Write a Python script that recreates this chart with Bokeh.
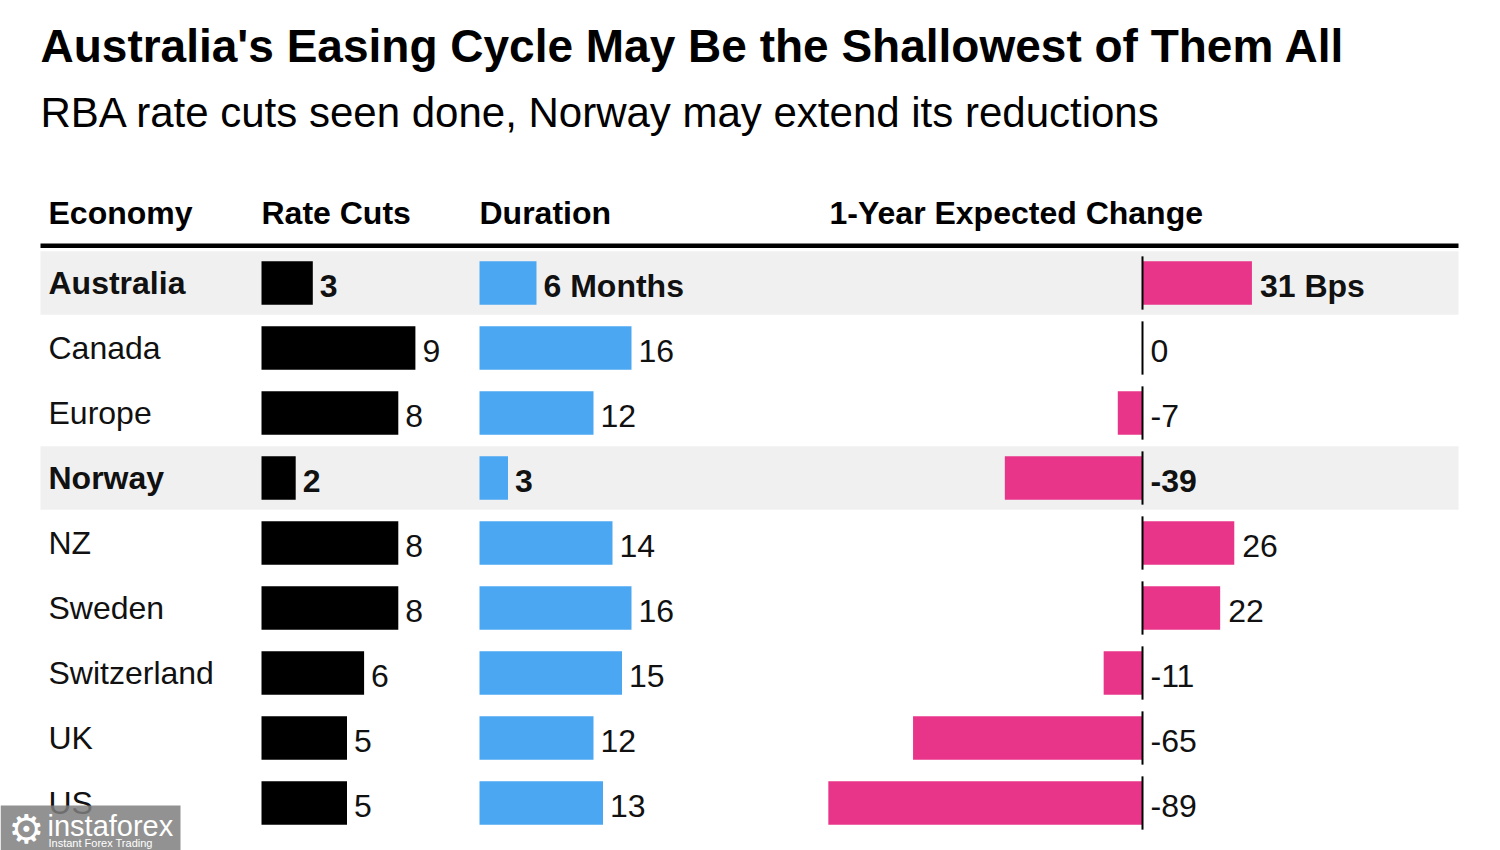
from bokeh.plotting import figure
from bokeh.models import Range1d, ColumnDataSource
from bokeh.core.properties import value, field
from bokeh.embed import file_html
from bokeh.resources import INLINE

# ---------------- data ----------------
economies = ["Australia", "Canada", "Europe", "Norway", "NZ", "Sweden", "Switzerland", "UK", "US"]
rate_cuts = [3, 9, 8, 2, 8, 8, 6, 5, 5]
duration_months = [6, 16, 12, 3, 14, 16, 15, 12, 13]
expected_change_bps = [31, 0, -7, -39, 26, 22, -11, -65, -89]
highlighted = ["Australia", "Norway"]
headers = ["Economy", "Rate Cuts", "Duration", "1-Year Expected Change"]
title_text = "Australia's Easing Cycle May Be the Shallowest of Them All"
subtitle_text = "RBA rate cuts seen done, Norway may extend its reductions"

# ---------------- layout constants (page pixels) ----------------
W, H = 1500, 850
PX0, PY0 = 0, 0
ROW0, ROWH = 282.5, 65.0        # first row centre, row pitch
FONT = "Liberation Sans"
BLACK, BLUE, PINK, BAND = "#000000", "#4CA7F3", "#E8358A", "#F0F0F0"

def col_range(origin_px, px_per_unit):
    return Range1d(start=(PX0 - origin_px) / px_per_unit,
                   end=(PX0 + W - origin_px) / px_per_unit)

p = figure(width=W, height=H, output_backend="svg", toolbar_location=None,
           x_range=Range1d(PX0, PX0 + W), y_range=Range1d(PY0 + H, PY0),
           min_border=0, outline_line_color=None,
           background_fill_color="white", border_fill_color="white")
p.axis.visible = False
p.grid.visible = False

p.extra_y_ranges = {"rows": Range1d(start=(PY0 + H - ROW0) / ROWH, end=(PY0 - ROW0) / ROWH)}
p.extra_x_ranges = {
    "cuts": col_range(261, 17.1),
    "dur": col_range(479, 9.5),
    "chg": col_range(1142, 3.53),
}

n = len(economies)
rows = list(range(n))
is_hl = [e in highlighted for e in economies]
styles = ["bold" if h else "normal" for h in is_hl]

dur_labels = [str(v) for v in duration_months]
dur_labels[0] = dur_labels[0] + " Months"
chg_labels = [str(v) for v in expected_change_bps]
chg_labels[0] = chg_labels[0] + " Bps"

src = ColumnDataSource(dict(
    row=rows, econ=economies, cuts=rate_cuts, dur=duration_months,
    chg=expected_change_bps, chg_pos=[max(0, v) for v in expected_change_bps],
    cuts_lbl=[str(v) for v in rate_cuts], dur_lbl=dur_labels, chg_lbl=chg_labels,
    style=styles,
    zero=[0] * n, lo=[r - 0.41 for r in rows], hi=[r + 0.41 for r in rows],
))

# highlighted row bands
hl_rows = [r for r, h in zip(rows, is_hl) if h]
p.quad(left=[40] * len(hl_rows), right=[1458] * len(hl_rows),
       bottom=[r + 0.49 for r in hl_rows], top=[r - 0.49 for r in hl_rows],
       y_range_name="rows", fill_color=BAND, line_color=None)

# header rule
p.quad(left=[40], right=[1458], top=[243], bottom=[247.5], fill_color="black", line_color=None)

# title & subtitle & headers
p.text(x=[40], y=[45], text=[title_text], text_font=value(FONT), text_font_size="46px",
       text_font_style="bold", text_color="#000000", text_baseline="alphabetic")
p.text(x=[40], y=[111.5], text=[subtitle_text], text_font=value(FONT), text_font_size="42px",
       text_color="#000000", text_baseline="alphabetic")
p.text(x=[48, 261, 479, 829], y=[212] * 4, text=headers, text_font=value(FONT),
       text_font_size="32px", text_font_style="bold", text_color="#000000",
       text_baseline="alphabetic")

# bars
bh = 0.67
p.hbar(y="row", left=0, right="cuts", height=bh, source=src, x_range_name="cuts",
       y_range_name="rows", fill_color=BLACK, line_color=None)
p.hbar(y="row", left=0, right="dur", height=bh, source=src, x_range_name="dur",
       y_range_name="rows", fill_color=BLUE, line_color=None)
p.hbar(y="row", left=0, right="chg", height=bh, source=src, x_range_name="chg",
       y_range_name="rows", fill_color=PINK, line_color=None)
# zero line of the change column
p.segment(x0="zero", x1="zero", y0="lo", y1="hi", source=src, x_range_name="chg",
          y_range_name="rows", line_color="black", line_width=2)

# text labels
common = dict(source=src, y_range_name="rows", text_font=value(FONT), text_font_size="32px",
              text_font_style=field("style"), text_color="#111111", text_baseline="alphabetic")
p.text(x=48, y="row", text="econ", y_offset=0, **common)
p.text(x="cuts", y="row", text="cuts_lbl", x_range_name="cuts", x_offset=7, y_offset=3, **common)
p.text(x="dur", y="row", text="dur_lbl", x_range_name="dur", x_offset=7, y_offset=3, **common)
p.text(x="chg_pos", y="row", text="chg_lbl", x_range_name="chg", x_offset=8, y_offset=3, **common)

# watermark
p.quad(left=[0], right=[180], top=[805], bottom=[850], fill_color="#7f7f7f",
       fill_alpha=0.85, line_color=None)
p.text(x=[8], y=[828], text=["\u2699"], text_font=value("DejaVu Sans"), text_font_size="40px",
       text_color="white", text_baseline="alphabetic")
p.text(x=[47], y=[825], text=["instaforex"], text_font=value(FONT), text_font_size="29px",
       text_color="white", text_baseline="alphabetic")
p.text(x=[48], y=[842], text=["Instant Forex Trading"], text_font=value(FONT),
       text_font_size="11px", text_color="white", text_baseline="alphabetic")

open("out.html", "w").write(file_html(p, INLINE))
